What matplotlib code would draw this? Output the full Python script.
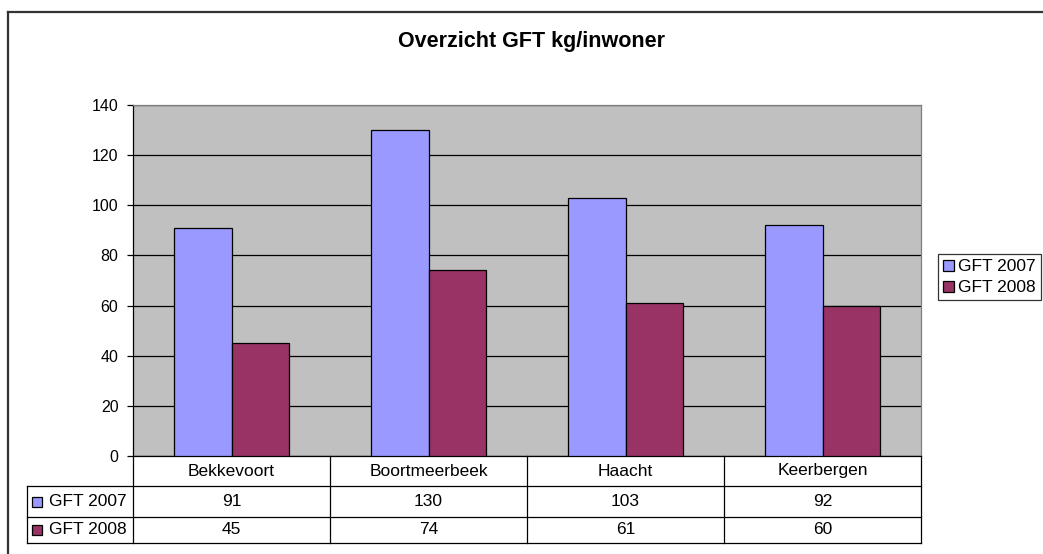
import matplotlib
matplotlib.use("Agg")
import matplotlib.pyplot as plt
from matplotlib.patches import Rectangle
from matplotlib.lines import Line2D

plt.rcParams['font.family'] = ['Liberation Sans', 'DejaVu Sans']

title = "Overzicht GFT kg/inwoner"
categories = ["Bekkevoort", "Boortmeerbeek", "Haacht", "Keerbergen"]
series_names = ["GFT 2007", "GFT 2008"]
gft2007 = [91, 130, 103, 92]
gft2008 = [45, 74, 61, 60]
series_values = [gft2007, gft2008]
colors = ["#9999FF", "#993366"]
yticks = [0, 20, 40, 60, 80, 100, 120, 140]

W, H = 1043, 554
fig = plt.figure(figsize=(W / 100, H / 100), dpi=100)
fig.patch.set_facecolor("white")

# outer chart frame
fig.add_artist(Line2D([8 / W, 1.0], [1 - 12 / H, 1 - 12 / H], color="#333333", lw=1.6,
                      transform=fig.transFigure))
fig.add_artist(Line2D([8 / W, 8 / W], [0, 1 - 12 / H], color="#333333", lw=1.6,
                      transform=fig.transFigure))

L, R, T, B = 133, 921, 105, 456
ax = fig.add_axes([L / W, 1 - B / H, (R - L) / W, (B - T) / H])
ax.set_facecolor("#C0C0C0")

n = len(categories)
bw = 0.29
x = list(range(n))
for k, (vals, col, name) in enumerate(zip(series_values, colors, series_names)):
    offs = (k - 0.5) * bw
    ax.bar([xi + offs for xi in x], vals, width=bw, color=col, edgecolor="black",
           linewidth=0.9, label=name, zorder=3)

ax.set_xlim(-0.5, n - 0.5)
ax.set_ylim(0, 140)
ax.set_yticks(yticks)
ax.set_yticklabels([str(v) for v in yticks], fontsize=11.5)
ax.set_xticks([])
ax.yaxis.grid(True, color="black", linewidth=0.9, zorder=1)
ax.set_axisbelow(True)
ax.tick_params(axis="y", length=4, width=0.9, pad=6.5, color="black")
ax.spines["left"].set_color("black")
ax.spines["bottom"].set_color("black")
ax.spines["top"].set_color("#808080")
ax.spines["right"].set_color("#808080")
for s in ax.spines.values():
    s.set_linewidth(0.9)

fig.text(532 / W, 1 - 42 / H, title, ha="center", va="center", fontsize=15.5,
         fontweight="bold")

# data table below the axes
ph = B - T
rows_px = [456, 486, 517, 543]
ry = [-(r - B) / ph for r in rows_px]
xl = (27 - L) / (R - L)
tr = ax.transAxes
lk = dict(color="black", lw=0.9, transform=tr, clip_on=False)
for yv in ry[1:]:
    ax.add_line(Line2D([xl, 1], [yv, yv], **lk))
for i in range(n + 1):
    xf = i / n
    ax.add_line(Line2D([xf, xf], [ry[0], ry[-1]], **lk))
ax.add_line(Line2D([xl, xl], [ry[1], ry[-1]], **lk))

tfs = 12.5
for i, c in enumerate(categories):
    xc = (i + 0.5) / n
    ax.text(xc, (ry[0] + ry[1]) / 2, c, transform=tr, ha="center", va="center",
            fontsize=tfs)
    for k, vals in enumerate(series_values):
        ax.text(xc, (ry[k + 1] + ry[k + 2]) / 2, str(vals[i]),
                transform=tr, ha="center", va="center", fontsize=tfs)

sq = 10 / (R - L)
sqh = 10 / ph
for k, (name, col) in enumerate(zip(series_names, colors)):
    yc = (ry[k + 1] + ry[k + 2]) / 2
    ax.add_patch(Rectangle(((32 - L) / (R - L), yc - sqh / 2), sq, sqh, facecolor=col,
                           edgecolor="black", lw=0.9, transform=tr, clip_on=False))
    ax.text((49 - L) / (R - L), yc, name, transform=tr, ha="left", va="center",
            fontsize=tfs)

# legend
leg = fig.legend(handles=[Rectangle((0, 0), 1, 1, facecolor=c, edgecolor="black", lw=0.9)
                          for c in colors],
                 labels=series_names, loc="upper left",
                 bbox_to_anchor=(938 / W, 1 - 254 / H), fontsize=12.5,
                 frameon=True, fancybox=False, handlelength=0.6, handleheight=0.6,
                 handletextpad=0.25, borderpad=0.3, labelspacing=0.35,
                 borderaxespad=0)
leg.get_frame().set_edgecolor("black")
leg.get_frame().set_linewidth(0.9)

fig.savefig("out.png", dpi=100, facecolor="white")
